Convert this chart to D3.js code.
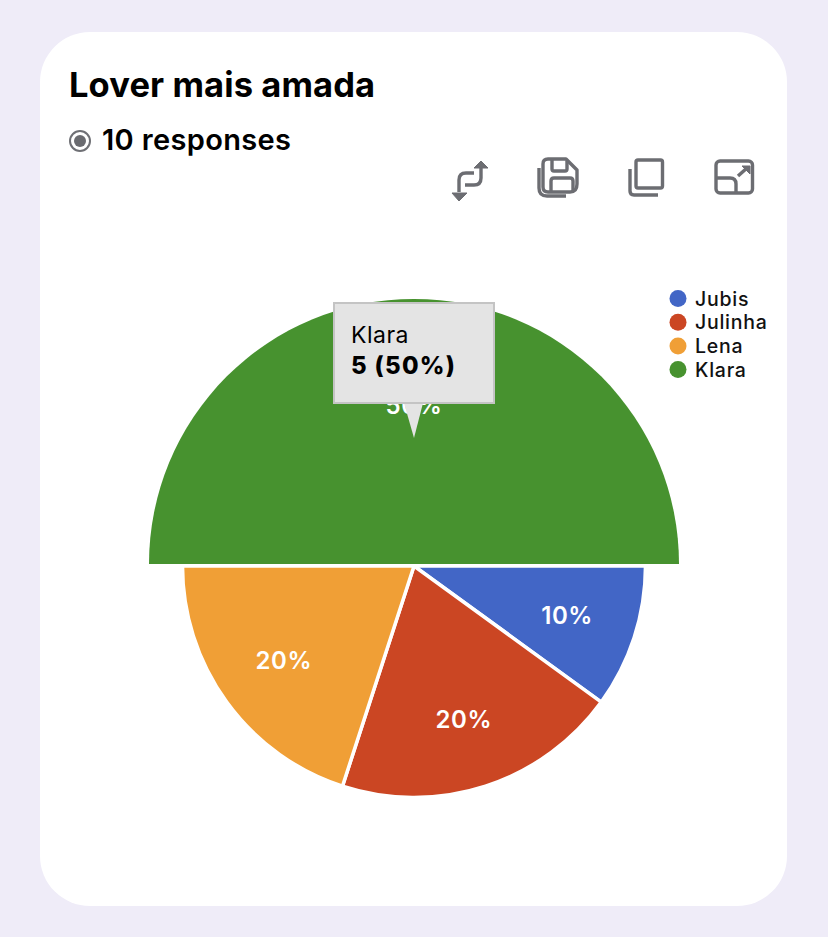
<!DOCTYPE html>
<html>
<head>
<meta charset="utf-8">
<script src="https://cdn.jsdelivr.net/npm/d3@7"></script>
<style>
  html, body { margin: 0; padding: 0; background: #efecf8; }
  svg { display: block; }
  text { font-family: Inter, "Liberation Sans", sans-serif; }
</style>
</head>
<body>
<div id="app"></div>
<script>
const names = ['Jubis', 'Julinha', 'Lena', 'Klara'];
const counts = [1, 2, 2, 5];
const colors = ['#4266c6', '#cb4623', '#f09f36', '#47922f'];
const total = 10;
const highlighted = 'Klara';

const width = 828, height = 937;
const cx = 414, cy = 566, radius = 231.5, bigRadius = 265;

const svg = d3.select('#app').append('svg')
  .attr('width', width)
  .attr('height', height);

// card
svg.append('rect')
  .attr('x', 40).attr('y', 32)
  .attr('width', 747).attr('height', 874)
  .attr('rx', 50)
  .attr('fill', '#fff');

// header
svg.append('text')
  .attr('x', 69).attr('y', 97)
  .attr('font-size', 34.5).attr('font-weight', 700)
  .attr('letter-spacing', 0.1)
  .attr('fill', '#000')
  .text('Lover mais amada');

svg.append('circle')
  .attr('cx', 80).attr('cy', 141).attr('r', 10)
  .attr('fill', 'none').attr('stroke', '#6f7075').attr('stroke-width', 2);
svg.append('circle')
  .attr('cx', 80).attr('cy', 141).attr('r', 6)
  .attr('fill', '#6a6b70');

svg.append('text')
  .attr('x', 102).attr('y', 150)
  .attr('font-size', 29).attr('font-weight', 600)
  .attr('letter-spacing', 0.35)
  .attr('fill', '#000')
  .text('10 responses');

// toolbar icons
const icons = svg.append('g')
  .attr('fill', 'none')
  .attr('stroke', '#6c6d72')
  .attr('stroke-width', 3.4)
  .attr('stroke-linejoin', 'round');

// swap
icons.append('path').attr('d', 'M459 192V180Q459 173 466 173H474');
icons.append('path').attr('d', 'M465 185H474Q481 185 481 178V168');
icons.append('path').attr('d', 'M474 168L481 161L488 168Z').attr('fill', '#6c6d72').attr('stroke-width', 1);
icons.append('path').attr('d', 'M452 193L459 201L467 193Z').attr('fill', '#6c6d72').attr('stroke-width', 1);

// save
icons.append('path').attr('d', 'M548 159H566L577 170V184Q577 192 570 192H548Q543 192 543 187V164Q543 159 548 159Z');
icons.append('path').attr('d', 'M552 160V169Q552 171 554 171H565Q567 171 567 169V161');
icons.append('path').attr('d', 'M551 191V181Q551 178 554 178H570Q573 178 573 181V191');
icons.append('path').attr('d', 'M539 168V188Q539 196 547 196H566');

// copy
icons.append('rect').attr('x', 636).attr('y', 160).attr('width', 26.5).attr('height', 28).attr('rx', 2);
icons.append('path').attr('d', 'M630 169V191Q630 195 634 195H658');

// expand
icons.append('rect').attr('x', 716).attr('y', 161).attr('width', 36.5).attr('height', 32).attr('rx', 4);
icons.append('path').attr('d', 'M716 178H730Q736 178 736 184V193');
icons.append('path').attr('d', 'M738 176L747 168');
icons.append('path').attr('d', 'M742 166H750V174Z').attr('fill', '#6c6d72').attr('stroke-width', 1);

// pie
const pie = d3.pie()
  .value(d => d.count)
  .sort(null)
  .startAngle(Math.PI / 2)
  .endAngle(Math.PI / 2 + 2 * Math.PI);

const color = d3.scaleOrdinal().domain(names).range(colors);
const rows = d3.zip(names, counts).map(([name, count]) => ({ name, count }));
const arcs = pie(rows);

const arc = d3.arc().innerRadius(0);
const labelArc = d3.arc().innerRadius(161).outerRadius(161);

const chart = svg.append('g').attr('transform', `translate(${cx},${cy})`);

chart.selectAll('path.slice')
  .data(arcs)
  .join('path')
  .attr('class', 'slice')
  .attr('transform', d => d.data.name === highlighted ? 'translate(0,-2)' : null)
  .attr('d', d => arc.outerRadius(d.data.name === highlighted ? bigRadius : radius)(d))
  .attr('fill', d => color(d.data.name))
  .attr('stroke', '#fff')
  .attr('stroke-width', d => d.data.name === highlighted ? 0 : 3.5);

chart.selectAll('text.pct')
  .data(arcs)
  .join('text')
  .attr('class', 'pct')
  .attr('transform', d => `translate(${labelArc.centroid(d)})`)
  .attr('dy', '0.36em')
  .attr('text-anchor', 'middle')
  .attr('font-size', 24).attr('font-weight', 600)
  .attr('letter-spacing', 0.6)
  .attr('fill', '#fff')
  .text(d => `${Math.round(d.data.count / total * 100)}%`);

// legend
const legend = svg.append('g').selectAll('g')
  .data(names)
  .join('g')
  .attr('transform', (d, i) => `translate(678,${298.5 + i * 23.7})`);

legend.append('circle')
  .attr('r', 8.5)
  .attr('fill', d => color(d));

legend.append('text')
  .attr('x', 17).attr('dy', '0.36em')
  .attr('font-size', 19.5).attr('font-weight', 500)
  .attr('letter-spacing', 0.75)
  .attr('fill', '#111')
  .text(d => d);

// tooltip
const hi = rows.find(d => d.name === highlighted);
const tip = svg.append('g');

tip.append('path')
  .attr('d', 'M404 403L414 438L423 403Z')
  .attr('fill', '#e4e4e4');

tip.append('rect')
  .attr('x', 334).attr('y', 303)
  .attr('width', 160).attr('height', 100)
  .attr('fill', '#e4e4e4')
  .attr('stroke', '#c4c4c4')
  .attr('stroke-width', 2);

tip.append('text')
  .attr('x', 351).attr('y', 343)
  .attr('font-size', 23)
  .attr('letter-spacing', 0.5)
  .attr('fill', '#000')
  .text(hi.name);

tip.append('text')
  .attr('x', 351).attr('y', 374)
  .attr('font-size', 24).attr('font-weight', 800)
  .attr('letter-spacing', 1.3)
  .attr('fill', '#000')
  .text(`${hi.count} (${Math.round(hi.count / total * 100)}%)`);
</script>
</body>
</html>
